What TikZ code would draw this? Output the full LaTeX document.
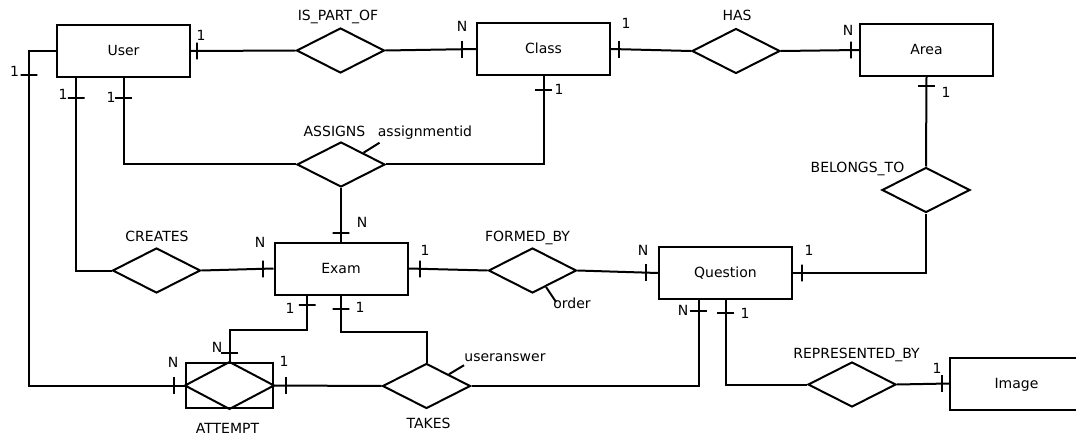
\documentclass[tikz,border=0pt]{standalone}
\usepackage{fontspec}
\setmainfont{DejaVu Sans}
\usetikzlibrary{calc,shapes.geometric}

\tikzset{
  er/.style={line width=1.5pt},
  entity/.style={draw, er, rectangle, minimum width=99.75pt, minimum height=39pt,
    inner sep=0pt, text height=0.73em, text depth=0pt},
  relation/.style={draw, er, diamond, minimum width=66pt, minimum height=33.75pt, inner sep=0pt},
  tickv/.style={draw, er, rectangle, minimum width=0pt, minimum height=12.5pt, inner sep=0pt},
  tickh/.style={draw, er, rectangle, minimum width=12.5pt, minimum height=0pt, inner sep=0pt},
  card/.style={inner sep=0pt},
  rlabel/.style={anchor=base, inner sep=0pt},
}

\begin{document}
\begin{tikzpicture}[x=0.75pt, y=-0.75pt, font=\fontsize{10.5}{12}\selectfont]
  \clip (0,0) rectangle (1076,435);

  % Entities
  \node[entity] (user) at (123.5,51) {User};
  \node[entity] (class) at (543.5,49) {Class};
  \node[entity] (area) at (926.5,50) {Area};
  \node[entity] (exam) at (341,268.5) {Exam};
  \node[entity] (question) at (725.5,273) {Question};
  \node[entity] (image) at (1016.5,383.5) {Image};

  % Relationships
  \node[relation] (ispartof) at (340.5,50.5) {};
  \node[relation] (has) at (736,51) {};
  \node[relation] (assigns) at (341,164.5) {};
  \node[relation] (belongsto) at (926,190) {};
  \node[relation] (creates) at (156.5,270.5) {};
  \node[relation] (formedby) at (532.5,270.5) {};
  \node[relation] (takes) at (426.5,386) {};
  \node[relation] (representedby) at (852,384.5) {};

  % Weak relationship: diamond inside a box
  \node[entity, minimum width=65.25pt, minimum height=33.75pt] (attempt) at (229.5,385.5) {};
  \draw[er] (attempt.west) -- (attempt.north) -- (attempt.east) -- (attempt.south) -- cycle;

  % Relationship names
  \node[rlabel] (ispartof-name) at (338,21) {IS\_PART\_OF};
  \node[rlabel] (has-name) at (737,21) {HAS};
  \node[rlabel] (assigns-name) at (334.5,137) {ASSIGNS};
  \node[rlabel] (belongsto-name) at (857.5,172) {BELONGS\_TO};
  \node[rlabel] (creates-name) at (157,242) {CREATES};
  \node[rlabel] (formedby-name) at (527.5,241) {FORMED\_BY};
  \node[rlabel] (takes-name) at (428.5,428) {TAKES};
  \node[rlabel] (attempt-name) at (227.5,433) {ATTEMPT};
  \node[rlabel] (representedby-name) at (856.5,358) {REPRESENTED\_BY};

  % Attributes of relationships
  \draw[er] ($(assigns.north)!0.5!(assigns.east)$) -- ++(16,-10);
  \node[rlabel] (assignmentid) at (425,137) {assignmentid};
  \draw[er] ($(formedby.south)!0.3!(formedby.east)$) -- ++(10,15);
  \node[rlabel] (order) at (572,308) {order};
  \draw[er] ($(takes.north)!0.5!(takes.east)$) -- ++(15,-9);
  \node[rlabel] (useranswer) at (505,361) {useranswer};

  % Connectors
  \draw[er] (user.east) -- (ispartof.west);
  \draw[er] (ispartof.east) -- (class.west);
  \draw[er] (class.east) -- (has.west);
  \draw[er] (has.east) -- (area.west);
  \draw[er] (user.west) -- ++(-27,0) |- (attempt.west);
  \draw[er] ($(user.south west)!0.15!(user.south east)$) |- (creates.west);
  \draw[er] (user.south) |- (assigns.west);
  \draw[er] (class.south) |- (assigns.east);
  \draw[er] (assigns.south) -- (exam.north);
  \draw[er] (creates.east) -- (exam.west);
  \draw[er] (exam.east) -- (formedby.west);
  \draw[er] (formedby.east) -- (question.west);
  \draw[er] (question.east) -| (belongsto.south);
  \draw[er] (belongsto.north) -- (area.south);
  \draw[er] ($(exam.south west)!0.25!(exam.south east)$) -- ++(0,34) -| (attempt.north);
  \draw[er] (exam.south) -- ++(0,36) -| (takes.north);
  \draw[er] (attempt.east) -- (takes.west);
  \draw[er] (takes.east) -| ($(question.south west)!0.3!(question.south east)$);
  \draw[er] (question.south) |- (representedby.west);
  \draw[er] (representedby.east) -- (image.west);

  % Cardinality ticks
  \node[tickv] (tick-user-e) at ($(user.east)+(6,0)$) {};
  \node[tickv] (tick-class-w) at ($(class.west)+(-14,0.5)$) {};
  \node[tickv] (tick-class-e) at ($(class.east)+(8,0.5)$) {};
  \node[tickv] (tick-area-w) at ($(area.west)+(-8,0)$) {};
  \node[tickh] (tick-user-l) at ($(user.west)+(-27,24)$) {};
  \node[tickh] (tick-user-b1) at ($(user.south west)!0.15!(user.south east)+(0,20)$) {};
  \node[tickh] (tick-user-b2) at ($(user.south)+(0,20)$) {};
  \node[tickh] (tick-class-s) at ($(class.south)+(0,14)$) {};
  \node[tickh] (tick-area-s) at ($(area.south)+(0,9)$) {};
  \node[tickh] (tick-exam-n) at ($(exam.north)+(0,-9)$) {};
  \node[tickv] (tick-exam-w) at ($(exam.west)+(-11,0.5)$) {};
  \node[tickv] (tick-exam-e) at ($(exam.east)+(11,0.5)$) {};
  \node[tickv] (tick-quest-w) at ($(question.west)+(-12,-0.5)$) {};
  \node[tickv] (tick-quest-e) at ($(question.east)+(9,0)$) {};
  \node[tickh] (tick-exam-s1) at ($(exam.south west)!0.25!(exam.south east)+(0,9)$) {};
  \node[tickh] (tick-exam-s2) at ($(exam.south)+(0,13)$) {};
  \node[tickh] (tick-att-n) at ($(attempt.north)+(0,-9)$) {};
  \node[tickv] (tick-att-w) at ($(attempt.west)+(-11,0)$) {};
  \node[tickv] (tick-att-e) at ($(attempt.east)+(12,0)$) {};
  \node[tickh] (tick-quest-s1) at ($(question.south west)!0.3!(question.south east)+(0,11)$) {};
  \node[tickh] (tick-quest-s2) at ($(question.south)+(0,13)$) {};
  \node[tickv] (tick-img-w) at ($(image.west)+(-7,0)$) {};

  % Cardinality labels
  \foreach \name/\x/\y/\txt in {
      card-user-e/201/35/1, card-class-w/462/26.5/N, card-class-e/626/23/1,
      card-area-w/848/30/N, card-user-l/14.5/71/1, card-user-b1/63/94/1,
      card-user-b2/111/97/1, card-class-s/559/89/1, card-area-s/946/92/1,
      card-exam-n/362/222/N, card-exam-w/260/242/N, card-exam-e/425/250/1,
      card-quest-w/643/250/N, card-quest-e/809/250/1, card-exam-s1/290/308/1,
      card-exam-s2/360/307/1, card-att-n/217/347/N, card-att-w/173/362/N,
      card-att-e/284/361/1, card-quest-s1/683/310/N, card-quest-s2/745/313/1,
      card-img-w/937/368/1}
    \node[card] (\name) at (\x,\y) {\txt};
\end{tikzpicture}
\end{document}
